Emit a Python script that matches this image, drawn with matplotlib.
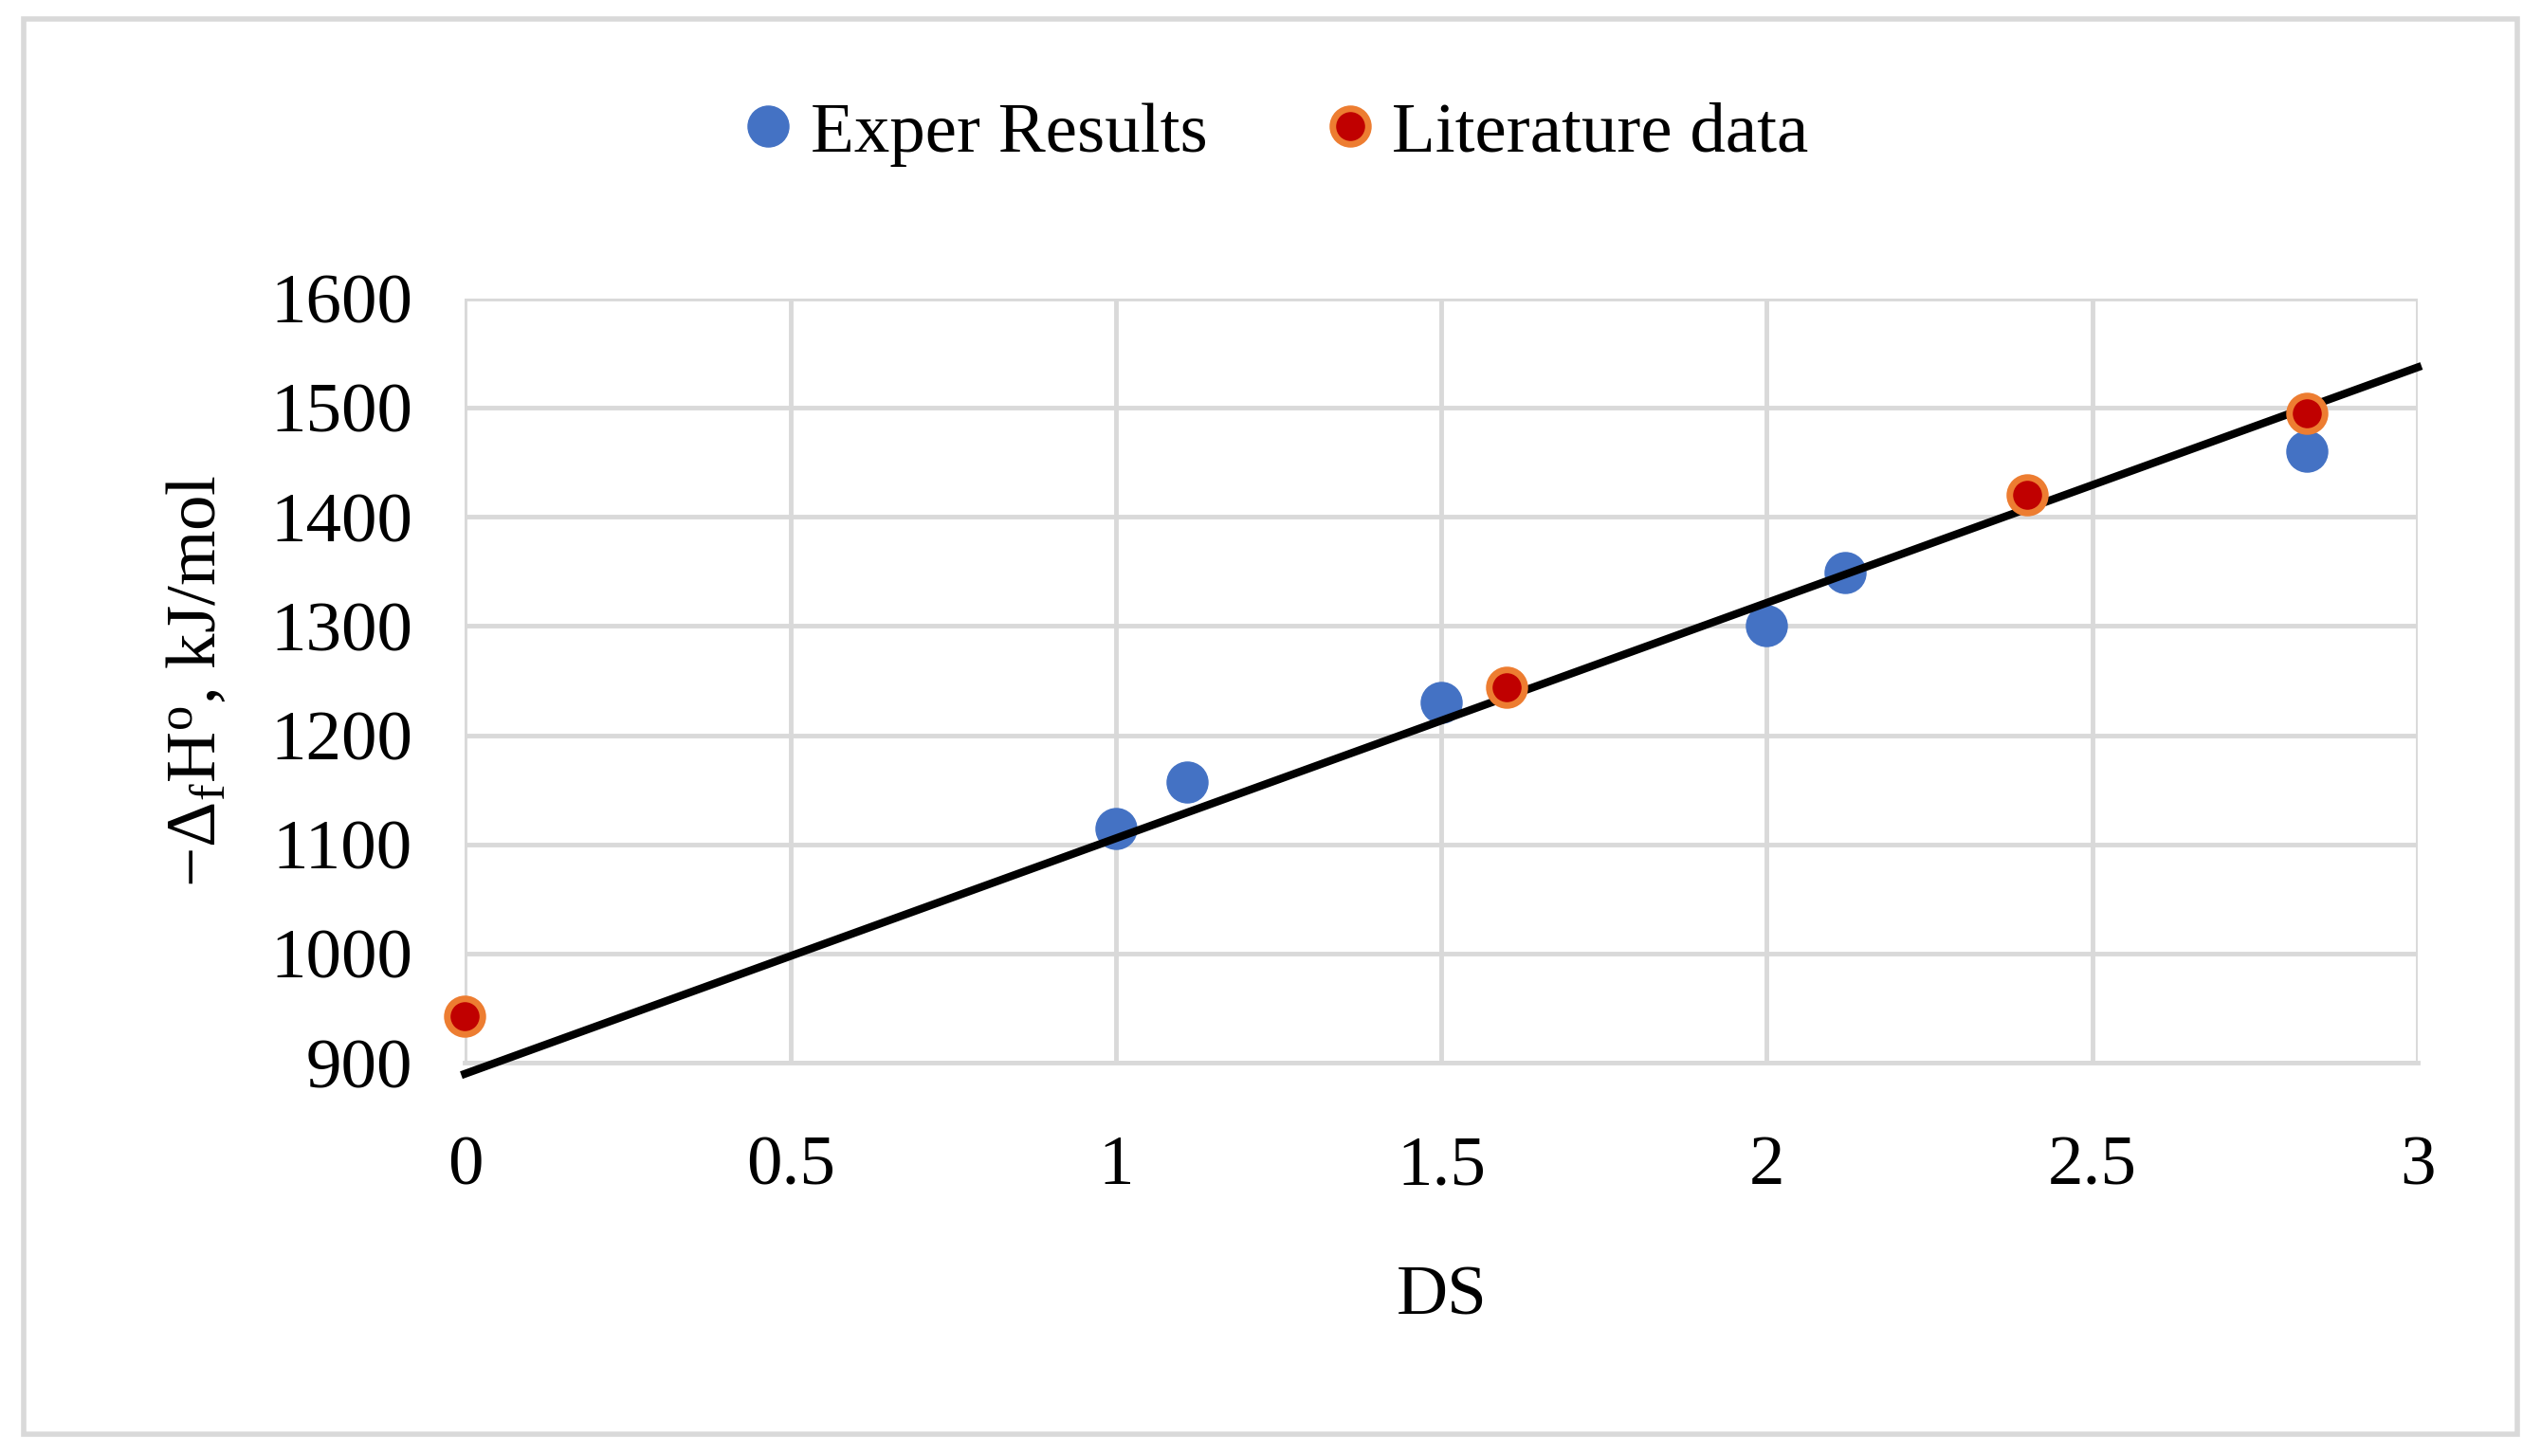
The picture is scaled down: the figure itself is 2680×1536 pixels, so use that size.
import matplotlib
matplotlib.use("Agg")
import matplotlib.pyplot as plt
from matplotlib.patches import Rectangle

exp_x = [1.0, 1.11, 1.5, 2.0, 2.12, 2.83]
exp_y = [1115, 1157, 1230, 1300, 1349, 1460]
lit_x = [0.0, 1.6, 2.4, 2.83]
lit_y = [943, 1244, 1420, 1495]
fit_x = [0.0, 3.0]
fit_y = [890, 1537]
xticks = [0, 0.5, 1, 1.5, 2, 2.5, 3]
xticklabels = ["0", "0.5", "1", "1.5", "2", "2.5", "3"]
yticks = [900, 1000, 1100, 1200, 1300, 1400, 1500, 1600]

plt.rcParams['font.family'] = ['Liberation Serif', 'DejaVu Serif']
plt.rcParams['mathtext.fontset'] = 'custom'
plt.rcParams['mathtext.rm'] = 'Liberation Serif'
plt.rcParams['mathtext.it'] = 'Liberation Serif:italic'
FS = 54
fig = plt.figure(figsize=(26.8, 15.36), dpi=100)
fig.patches.append(Rectangle((0.0095, 0.015), 0.981, 0.972, transform=fig.transFigure,
                             fill=False, edgecolor='#d9d9d9', linewidth=4))
ax = fig.add_axes([0.183, 0.270, 0.7685, 0.525])
ax.set_xlim(0, 3)
ax.set_ylim(900, 1600)
ax.set_xticks(xticks)
ax.set_xticklabels(xticklabels)
ax.set_yticks(yticks)
ax.grid(True, color='#d9d9d9', linewidth=3.5)
ax.set_axisbelow(True)
for s in ['top', 'right', 'left']:
    ax.spines[s].set_visible(False)
ax.spines['bottom'].set_color('#d9d9d9')
ax.spines['bottom'].set_linewidth(3.5)
ax.tick_params(axis='x', length=0, labelsize=FS, pad=55)
ax.tick_params(axis='y', length=0, labelsize=FS, pad=40)
ax.plot(fit_x, fit_y, color='black', linewidth=6, clip_on=False, zorder=4)
ax.plot(exp_x, exp_y, 'o', color='#4472c4', markersize=31, label='Exper Results', zorder=3, clip_on=False)
ax.plot(lit_x, lit_y, 'o', color='#c00000', markeredgecolor='#ed7d31', markeredgewidth=5,
        markersize=27, label='Literature data', zorder=5, clip_on=False)
ax.set_xlabel('DS', fontsize=FS, labelpad=50)
ax.set_ylabel(r'$\mathrm{-\Delta_f H^o}$, kJ/mol', fontsize=FS, labelpad=30)
fig.legend(loc='center', bbox_to_anchor=(0.5, 0.908), ncol=2, frameon=False,
           fontsize=FS, handletextpad=0.1, columnspacing=1.5, handlelength=1.0)
fig.savefig('out.png', dpi=100)
